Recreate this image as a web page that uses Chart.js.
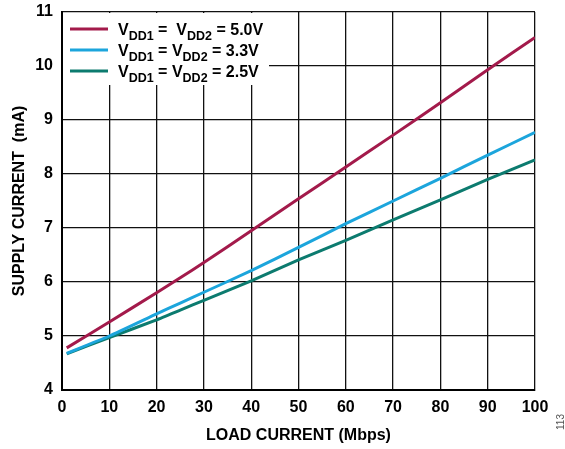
<!DOCTYPE html>
<html>
<head>
<meta charset="utf-8">
<script src="https://cdn.jsdelivr.net/npm/chart.js@4"></script>
<style>
  html, body { margin: 0; padding: 0; background: #fff; }
  #wrap { width: 565px; height: 449px; position: relative; }
</style>
</head>
<body>
<div id="wrap"><canvas id="c" width="565" height="449"></canvas></div>
<script>
// load rate (Mbps) and supply current (mA)
const loadMbps = [1, 10, 20, 25, 30, 40, 50, 60, 70, 80, 90, 100];
const vdd50 = [4.78, 5.26, 5.80, 6.08, 6.36, 6.95, 7.54, 8.13, 8.72, 9.32, 9.93, 10.53];
const vdd33 = [4.68, 5.00, 5.41, 5.61, 5.81, 6.21, 6.64, 7.08, 7.50, 7.92, 8.35, 8.77];
const vdd25 = [4.67, 4.97, 5.30, 5.48, 5.66, 6.02, 6.41, 6.77, 7.15, 7.52, 7.90, 8.26];
const seriesVolts = ['5.0V', '3.3V', '2.5V'];
const xTicks = [0, 10, 20, 30, 40, 50, 60, 70, 80, 90, 100];
const yTicks = [4, 5, 6, 7, 8, 9, 10, 11];

const colors = ['#A31A4B', '#1CA5DC', '#0C7B6F'];
const FONT = '"Liberation Sans", Arial, sans-serif';

const pts = vals => loadMbps.map((x, i) => ({ x, y: vals[i] }));

// legend with subscripts drawn in a white box over the grid
const legendBox = {
  id: 'legendBox',
  beforeDatasetsDraw(chart) {
    const ctx = chart.ctx;
    const a = chart.chartArea;
    ctx.save();
    ctx.fillStyle = '#fff';
    ctx.fillRect(a.left + 1, a.top + 1, 206, 72);
    ctx.restore();
  },
  afterDatasetsDraw(chart) {
    const ctx = chart.ctx;
    const a = chart.chartArea;
    ctx.save();
    seriesVolts.forEach((v, i) => {
      const y = a.top + 17 + i * 21;
      ctx.strokeStyle = colors[i];
      ctx.lineWidth = 3;
      ctx.beginPath();
      ctx.moveTo(a.left + 8, y);
      ctx.lineTo(a.left + 46, y);
      ctx.stroke();

      let x = a.left + 56;
      const parts = [
        ['V', 16, 0], ['DD1', 12.5, 5], [i === 0 ? ' =  ' : ' = ', 16, 0],
        ['V', 16, 0], ['DD2', 12.5, 5], [' = ' + v, 16, 0]
      ];
      ctx.fillStyle = '#000';
      ctx.textBaseline = 'alphabetic';
      ctx.textAlign = 'left';
      parts.forEach(([t, sz, dy]) => {
        ctx.font = 'bold ' + sz + 'px ' + FONT;
        ctx.fillText(t, x, y + 6 + dy);
        x += ctx.measureText(t).width;
      });
    });
    ctx.restore();
  },
  afterDraw(chart) {
    const ctx = chart.ctx;
    ctx.save();
    ctx.translate(561, 422);
    ctx.rotate(-Math.PI / 2);
    ctx.font = '10px ' + FONT;
    ctx.fillStyle = '#555';
    ctx.textAlign = 'center';
    ctx.textBaseline = 'middle';
    ctx.fillText('113', 0, 0);
    ctx.restore();
  }
};

new Chart(document.getElementById('c'), {
  type: 'line',
  data: {
    datasets: [vdd50, vdd33, vdd25].map((vals, i) => ({
      label: 'VDD1 = VDD2 = ' + seriesVolts[i],
      data: pts(vals),
      borderColor: colors[i],
      backgroundColor: colors[i],
      borderWidth: 3,
      pointRadius: 0,
      tension: 0.15
    }))
  },
  options: {
    responsive: false,
    animation: false,
    layout: { padding: { left: 0, right: 30, top: 12, bottom: 0 } },
    plugins: { legend: { display: false }, tooltip: { enabled: false } },
    scales: {
      x: {
        type: 'linear',
        min: 0, max: 100,
        afterBuildTicks: s => { s.ticks = xTicks.map(v => ({ value: v })); },
        afterFit: s => { s.height = 59; },
        grid: { color: '#111', lineWidth: 1.3, drawTicks: false },
        border: { color: '#000', width: 2 },
        ticks: { padding: 8, color: '#000', font: { family: FONT, size: 16, weight: 'bold' }, maxRotation: 0 },
        title: { display: true, text: 'LOAD CURRENT (Mbps)', color: '#000', padding: { top: 6, bottom: 4 },
                 font: { family: FONT, size: 16, weight: 'bold' } }
      },
      y: {
        min: 4, max: 11,
        afterBuildTicks: s => { s.ticks = yTicks.map(v => ({ value: v })); },
        afterFit: s => { s.width = 62; s.paddingTop = 0; s.paddingBottom = 0; },
        grid: { color: '#111', lineWidth: 1.3, drawTicks: false },
        border: { color: '#000', width: 2 },
        ticks: { padding: 9, color: '#000', font: { family: FONT, size: 16, weight: 'bold' } },
        title: { display: true, text: 'SUPPLY CURRENT  (mA)', color: '#000', padding: { top: 10, bottom: 0 },
                 font: { family: FONT, size: 16, weight: 'bold' } }
      }
    }
  },
  plugins: [legendBox]
});
</script>
</body>
</html>
